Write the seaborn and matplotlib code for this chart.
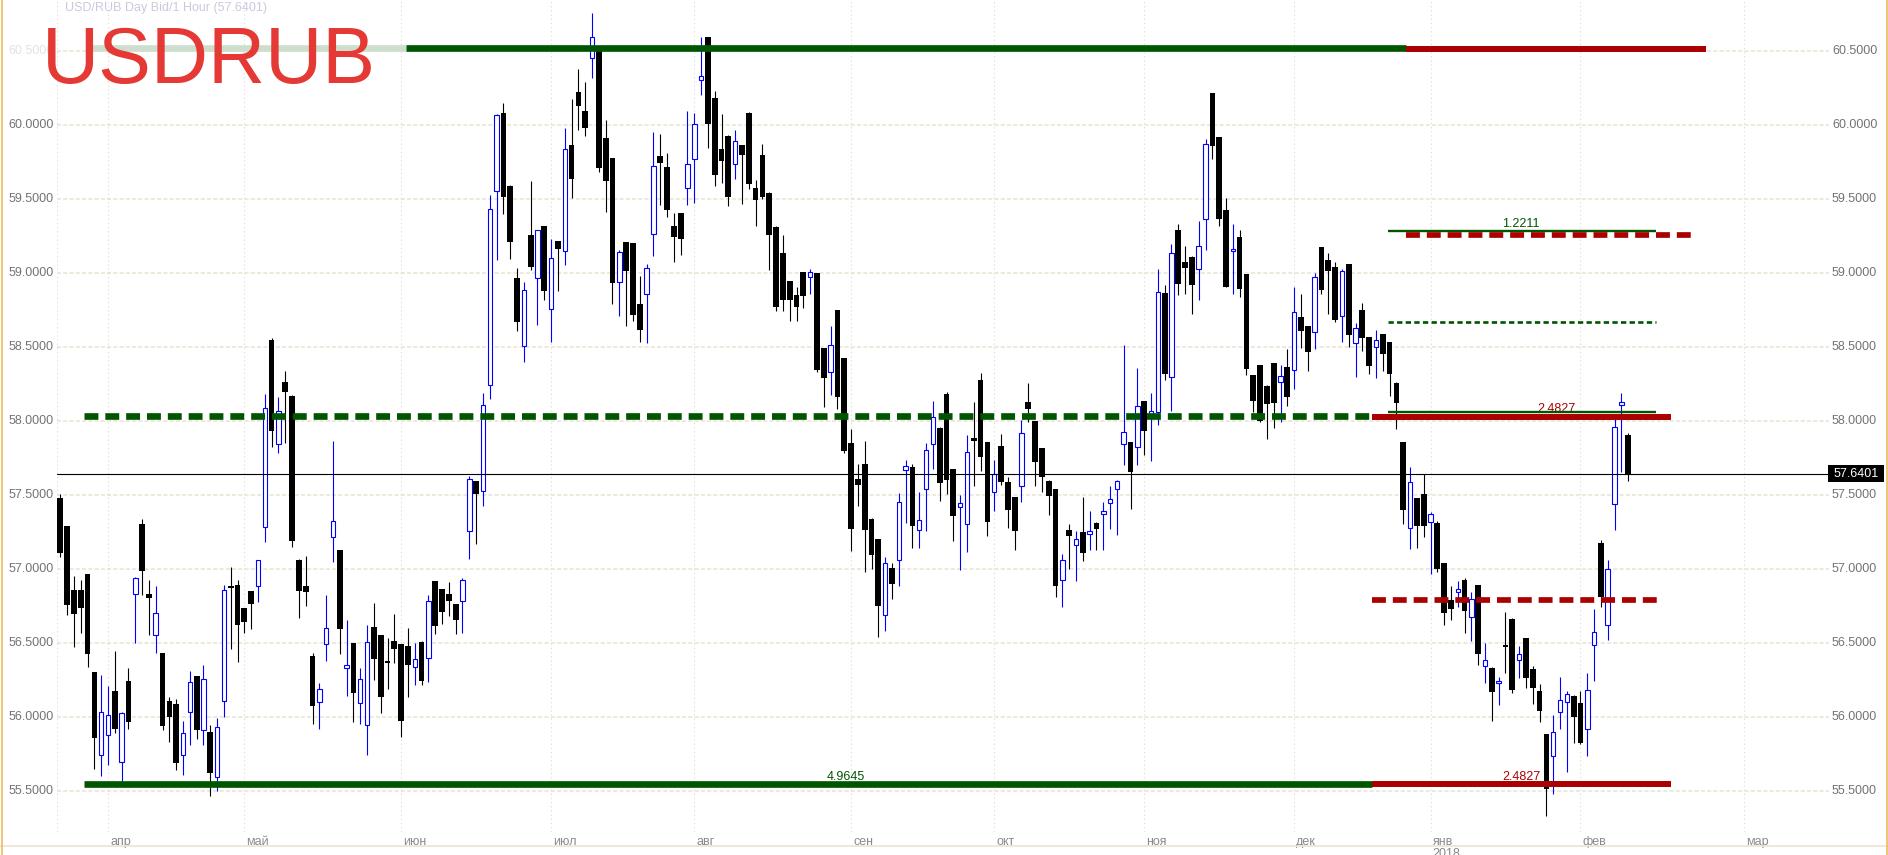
import numpy as np
import pandas as pd
import matplotlib
matplotlib.use("Agg")
import matplotlib.pyplot as plt
import matplotlib.transforms as mtransforms
from matplotlib.lines import Line2D
from matplotlib.patches import Rectangle
import seaborn as sns

# дневные свечи USD/RUB (Bid), 23.03.2017 - 12.02.2018, без 25.12 и 01.01
dates = pd.bdate_range("2017-03-23", "2018-02-12")
dates = dates[~dates.isin(pd.to_datetime(["2017-12-25", "2018-01-01"]))]

opens = [
    57.479, 57.285, 56.852, 56.858, 56.960, 56.299, 55.739,
    55.874, 56.171, 55.692, 56.238, 56.831, 57.299, 56.827, 56.548, 56.427, 56.103,
    56.083, 55.739, 56.029, 56.272, 55.908, 55.894, 55.591, 56.103, 56.876, 56.892,
    56.733, 56.847, 56.885, 57.283, 58.544, 57.843, 58.263, 58.166, 57.061, 56.885,
    56.409, 56.097, 56.488, 57.216, 57.124, 56.326, 56.497, 56.090, 55.942, 56.602,
    56.548, 56.375, 56.508,
    56.488, 56.476, 56.333, 56.501, 56.393, 56.915, 56.861, 56.827, 56.760, 56.784,
    57.256, 57.593, 57.526, 58.239, 59.549, 60.079, 59.585, 58.965, 58.503, 59.254,
    58.963, 59.315,
    58.753, 59.213, 59.145, 59.862, 60.221, 60.092, 60.451, 60.507, 59.910, 59.775,
    58.936, 59.206, 59.200, 58.789, 58.855, 59.260, 59.790, 59.716, 59.315, 59.402,
    59.572,
    59.768, 60.302, 60.593, 60.181, 59.832, 59.925, 59.734, 59.863, 60.080, 59.569,
    59.796, 59.541, 59.311, 59.131, 58.942, 58.847, 59.002, 58.973, 58.994, 58.489,
    58.331, 58.746, 58.421,
    57.849, 57.606, 57.710, 57.338, 57.201, 56.688, 57.005, 57.057, 57.666, 57.684,
    57.261, 57.537, 57.844, 57.952, 58.183, 57.673, 57.418, 57.304, 57.872, 58.277,
    57.855,
    57.519, 57.828, 57.586, 57.485, 57.559, 58.123, 57.998, 57.814, 57.595, 57.535,
    56.922, 57.264, 57.157, 57.244, 57.237, 57.311, 57.371, 57.445, 57.539, 57.841,
    57.855, 57.821,
    58.130, 58.016, 58.061, 58.863, 58.293, 59.288, 59.072, 59.106, 59.023, 59.360,
    60.214, 59.917, 59.423, 59.146, 59.241, 58.991, 58.309, 58.376, 58.236, 58.390,
    58.259, 58.363,
    58.340, 58.698, 58.637, 58.597, 59.173, 59.083, 59.038, 58.706, 59.059, 58.525,
    58.750, 58.562, 58.497, 58.582, 58.528, 58.257, 57.852, 57.272, 57.476, 57.501,
    57.318, 57.308, 57.037, 56.787, 56.839, 56.924, 56.676, 56.890, 56.341, 56.330,
    56.228, 56.475, 56.661, 56.382, 56.532, 56.323, 56.176, 55.879, 55.734, 56.031,
    56.098, 56.141,
    56.094, 55.916, 56.481, 57.174, 56.616, 57.435, 58.105, 57.903,
]
highs = [
    57.506, 57.290, 56.953, 56.926, 56.960, 56.300, 56.281,
    56.207, 56.443, 56.030, 56.328, 56.940, 57.333, 56.926, 56.881, 56.430, 56.135,
    56.119, 55.969, 56.308, 56.275, 56.346, 55.942, 55.989, 56.892, 57.009, 56.926,
    56.735, 56.850, 57.061, 58.180, 58.557, 58.162, 58.337, 58.170, 57.063, 57.088,
    56.427, 56.225, 56.820, 57.865, 57.126, 56.652, 56.500, 56.328, 56.618, 56.766,
    56.550, 56.528, 56.692,
    56.490, 56.596, 56.494, 56.510, 56.820, 56.917, 56.863, 56.908, 56.762, 56.935,
    57.625, 57.595, 58.187, 59.526, 60.070, 60.147, 59.590, 59.033, 58.938, 59.621,
    59.290, 59.317,
    59.229, 59.215, 59.980, 60.176, 60.379, 60.291, 60.751, 60.510, 60.034, 59.777,
    59.150, 59.208, 59.202, 58.979, 59.057, 59.953, 59.939, 59.811, 59.402, 59.404,
    60.095,
    60.079, 60.589, 60.595, 60.230, 60.075, 59.927, 59.966, 59.865, 60.082, 59.629,
    59.866, 59.543, 59.313, 59.257, 58.944, 58.901, 59.004, 59.022, 58.996, 58.491,
    58.638, 58.748, 58.423,
    57.942, 57.710, 57.862, 57.340, 57.203, 57.078, 57.039, 57.511, 57.735, 57.710,
    57.516, 57.849, 58.135, 57.960, 58.190, 57.675, 57.499, 57.902, 58.123, 58.324,
    57.857,
    57.736, 57.908, 57.622, 57.487, 58.004, 58.251, 58.000, 57.816, 57.597, 57.537,
    57.096, 57.300, 57.251, 57.481, 57.387, 57.313, 57.452, 57.555, 57.600, 58.509,
    57.857, 58.356,
    58.133, 58.186, 59.023, 58.917, 59.194, 59.329, 59.180, 59.113, 59.349, 59.901,
    60.216, 59.919, 59.505, 59.329, 59.288, 58.993, 58.311, 58.378, 58.238, 58.392,
    58.376, 58.484,
    58.903, 58.856, 58.639, 58.998, 59.175, 59.133, 59.072, 59.021, 59.061, 58.662,
    58.796, 58.564, 58.613, 58.584, 58.530, 58.259, 57.854, 57.685, 57.478, 57.636,
    57.380, 57.320, 57.039, 56.882, 56.916, 56.937, 56.839, 56.892, 56.498, 56.332,
    56.268, 56.707, 56.663, 56.477, 56.534, 56.343, 56.222, 55.881, 56.013, 56.269,
    56.173, 56.143,
    56.173, 56.296, 56.728, 57.192, 57.059, 58.011, 58.186, 57.916,
]
lows = [
    57.079, 56.683, 56.472, 56.566, 56.337, 55.649, 55.596,
    55.676, 55.888, 55.562, 55.919, 56.499, 56.820, 56.553, 56.427, 55.906, 55.825,
    55.636, 55.603, 55.805, 55.847, 55.805, 55.461, 55.494, 56.000, 56.458, 56.366,
    56.562, 56.593, 56.775, 57.182, 57.820, 57.780, 57.847, 57.146, 56.667, 56.748,
    55.953, 55.919, 56.378, 57.045, 56.425, 56.139, 55.966, 55.953, 55.737, 56.245,
    56.027, 56.189, 56.364,
    55.865, 56.130, 56.216, 56.216, 56.236, 56.560, 56.627, 56.681, 56.560, 56.567,
    57.065, 57.166, 57.422, 58.149, 59.082, 59.393, 59.089, 58.602, 58.399, 59.019,
    58.647, 58.816,
    58.532, 58.879, 59.053, 59.506, 59.966, 59.921, 60.313, 59.682, 59.407, 58.791,
    58.710, 58.642, 58.676, 58.534, 58.521, 59.109, 59.454, 59.373, 59.069, 59.116,
    59.454,
    59.468, 60.198, 59.840, 59.587, 59.605, 59.448, 59.631, 59.463, 59.562, 59.314,
    59.494, 59.015, 58.741, 58.741, 58.674, 58.674, 58.759, 58.857, 58.326, 58.089,
    58.176, 58.081, 57.779,
    57.121, 57.421, 56.974, 57.000, 56.536, 56.580, 56.794, 56.884, 57.310, 57.137,
    57.139, 57.253, 57.671, 57.460, 57.501, 57.188, 56.993, 57.114, 57.557, 57.658,
    57.221,
    57.389, 57.568, 57.275, 57.128, 57.452, 57.993, 57.557, 57.517, 57.362, 56.805,
    56.738, 56.998, 56.919, 57.051, 57.128, 57.128, 57.128, 57.266, 57.228, 57.698,
    57.405, 57.698,
    57.770, 57.725, 57.971, 58.277, 58.068, 58.849, 58.858, 58.723, 58.818, 59.155,
    59.770, 59.318, 58.903, 58.858, 58.838, 58.311, 58.061, 57.993, 57.874, 57.953,
    57.993, 58.099,
    58.216, 58.493, 58.338, 58.482, 58.858, 58.721, 58.669, 58.528, 58.497, 58.293,
    58.469, 58.314, 58.288, 58.335, 58.167, 57.942, 57.303, 57.135, 57.140, 57.213,
    56.965, 56.980, 56.617, 56.655, 56.743, 56.563, 56.511, 56.346, 56.230, 55.969,
    56.075, 56.292, 56.158, 56.258, 56.194, 56.083, 55.962, 55.325, 55.475, 55.914,
    55.624, 55.819,
    55.815, 55.732, 56.238, 56.737, 56.515, 57.264, 57.655, 57.594,
]
closes = [
    57.106, 56.757, 56.694, 56.735, 56.420, 55.858, 56.029,
    56.009, 55.919, 56.022, 55.966, 56.939, 56.984, 56.798, 56.703, 55.933, 56.000,
    55.685, 55.888, 56.231, 55.906, 56.252, 55.622, 55.928, 56.858, 56.870, 56.622,
    56.640, 56.764, 57.061, 58.085, 57.928, 58.065, 58.191, 57.189, 56.850, 56.843,
    56.074, 56.184, 56.596, 57.324, 56.593, 56.346, 56.162, 56.252, 56.501, 56.391,
    56.135, 56.360, 56.458,
    55.973, 56.346, 56.387, 56.243, 56.784, 56.613, 56.708, 56.782, 56.654, 56.926,
    57.607, 57.503, 58.106, 59.430, 60.065, 59.508, 59.204, 58.663, 58.882, 59.035,
    59.287, 58.873,
    59.098, 59.159, 59.835, 59.630, 60.124, 59.975, 60.593, 59.705, 59.617, 58.927,
    59.139, 59.008, 58.713, 58.611, 59.030, 59.720, 59.738, 59.421, 59.238, 59.224,
    59.734,
    60.005, 60.329, 60.002, 59.657, 59.752, 59.510, 59.889, 59.794, 59.598, 59.489,
    59.510, 59.255, 58.770, 58.816, 58.816, 58.770, 58.842, 59.007, 58.344, 58.290,
    58.514, 58.161, 57.797,
    57.266, 57.563, 57.258, 57.091, 56.748, 57.039, 56.894, 57.449, 57.692, 57.289,
    57.328, 57.800, 58.027, 57.577, 57.597, 57.356, 57.445, 57.787, 57.865, 57.752,
    57.315,
    57.638, 57.584, 57.396, 57.255, 57.915, 58.081, 57.718, 57.617, 57.490, 56.879,
    57.056, 57.221, 57.197, 57.107, 57.255, 57.268, 57.391, 57.472, 57.593, 57.922,
    57.651, 58.096,
    57.933, 58.063, 58.867, 58.318, 59.131, 58.926, 59.034, 58.919, 59.178, 59.867,
    59.858, 59.365, 58.905, 59.153, 58.892, 58.351, 58.135, 58.000, 58.115, 58.122,
    58.300, 58.162,
    58.732, 58.608, 58.466, 58.968, 58.885, 59.014, 58.678, 59.013, 58.577, 58.626,
    58.556, 58.368, 58.546, 58.448, 58.314, 58.118, 57.398, 57.584, 57.290, 57.290,
    57.367, 56.998, 56.697, 56.730, 56.862, 56.710, 56.795, 56.426, 56.382, 56.163,
    56.235, 56.468, 56.178, 56.423, 56.258, 56.191, 56.036, 55.510, 55.896, 56.112,
    56.152, 55.995,
    55.819, 56.179, 56.571, 56.805, 56.996, 57.954, 58.123, 57.6401,
]
last_price = 57.6401

price_ticks = [55.5, 56.0, 56.5, 57.0, 57.5, 58.0, 58.5, 59.0, 59.5, 60.0, 60.5]
month_names = ["апр", "май", "июн", "июл", "авг", "сен", "окт", "ноя", "дек", "янв", "фев", "мар"]
future_slots_to_march = 24   # прогнозная зона справа

# уровни (цена, начало, конец в слотах свечей, цвет, толщина, стиль)
GREEN = "#005500"
RED = "#aa0000"
LIGHT_GREEN = "#cddfcc"
levels = [
    (60.515, 3.9, 50.7, LIGHT_GREEN, 4.8, "-"),
    (60.515, 50.7, 197.4, GREEN, 4.8, "-"),
    (60.51, 197.4, 241.4, RED, 4.3, "-"),
    (58.03, 3.5, 192.4, GREEN, 4.8, (0, (10, 5))),
    (58.022, 192.4, 236.3, RED, 4.3, "-"),
    (58.055, 194.8, 234.1, GREEN, 1.7, "-"),
    (55.545, 3.5, 192.4, GREEN, 4.8, "-"),
    (55.545, 192.4, 236.3, RED, 4.3, "-"),
    (59.28, 194.8, 234.1, GREEN, 1.7, "-"),
    (59.257, 197.4, 239.7, RED, 4.1, (0, (10, 5))),
    (58.669, 194.8, 234.1, GREEN, 1.9, (0, (3.8, 2.4))),
    (56.785, 192.4, 234.5, RED, 4.1, (0, (10, 5))),
]
level_labels = [
    ("1.2211", 214.3, 59.29, GREEN),
    ("2.4827", 219.4, 58.035, RED),
    ("4.9645", 115.3, 55.55, GREEN),
    ("2.4827", 214.3, 55.55, RED),
]

sns.set_theme(style="white")
plt.rcParams["font.family"] = ["Liberation Sans", "DejaVu Sans"]
plt.rcParams["lines.scale_dashes"] = False

W, H = 1888, 855
fig = plt.figure(figsize=(W / 100, H / 100), dpi=100)
fig.patch.set_facecolor("white")
ax = fig.add_axes([57.3 / W, 1 - 832 / H, (1829.3 - 57.3) / W, 832 / H])
ax.set_xlim(-0.44, 259.5)
ax.set_ylim(55.22, 60.842)
ax.set_axis_off()

o = np.array(opens)
h = np.array(highs)
l = np.array(lows)
c = np.array(closes)
x = np.arange(len(dates))
up = c >= o

# сетка
for v in price_ticks:
    ax.axhline(v, color="#e8e4d2", lw=1.1, ls=(0, (3, 1.5)), zorder=0)
month_pos = [i for i in range(1, len(dates)) if dates[i].month != dates[i - 1].month]
month_pos = [7] + month_pos if 7 not in month_pos else month_pos
month_pos.append(month_pos[-1] + future_slots_to_march)
for p in month_pos + [-0.44, 259.5]:
    ax.axvline(p, color="#e0e0d8", lw=0.8, ls=(0, (1, 2)), zorder=0)

# свечи
ax.vlines(x[up], l[up], h[up], color="#0000ff", lw=0.8, zorder=2)
ax.vlines(x[~up], l[~up], h[~up], color="black", lw=0.8, zorder=2)
ax.bar(x[up], np.maximum(c - o, 0.012)[up], bottom=o[up], width=0.66,
       facecolor="white", edgecolor="#0000ff", linewidth=0.8, zorder=3)
ax.bar(x[~up], np.maximum(o - c, 0.015)[~up], bottom=c[~up], width=0.84,
       color="black", linewidth=0, zorder=3)

# подписи уровней (частично перекрыты линиями)
for s, xp, yp, col in level_labels:
    ax.text(xp, yp, s, color=col, fontsize=9, ha="center", va="bottom", zorder=3.5)

# уровни
for y, x0, x1, col, lw, ls in levels:
    ax.plot([x0, x1], [y, y], color=col, lw=lw, ls=ls, zorder=4,
            solid_capstyle="butt", dash_capstyle="butt")

# текущая цена
ax.axhline(last_price, color="black", lw=0.8, zorder=5)

trans = mtransforms.blended_transform_factory(fig.transFigure, ax.transData)
for v in price_ticks:
    ax.text(1832 / W, v, f"{v:.4f}", transform=trans, color="#737373", fontsize=9,
            ha="left", va="center", clip_on=False)
    ax.text(53.5 / W, v, f"{v:.4f}", transform=trans,
            color="#e2e2e2" if v == 60.5 else "#737373", fontsize=9,
            ha="right", va="center", clip_on=False)
ax.add_patch(Rectangle((1828.3 / W, last_price - 0.0575), 55.7 / W, 0.115,
                       transform=trans, facecolor="black", edgecolor="none",
                       clip_on=False, zorder=6))
ax.text(1856 / W, last_price, f"{last_price:.4f}", transform=trans, color="white",
        fontsize=9, ha="center", va="center", clip_on=False, zorder=7)

# месяцы
transx = mtransforms.blended_transform_factory(ax.transData, fig.transFigure)
for p, name in zip(month_pos, month_names):
    ax.text(p + 0.3, 1 - 845 / H, name, transform=transx, color="#8a8a8a",
            fontsize=9, ha="left", va="baseline", clip_on=False)
ax.text(month_pos[9] + 0.3, 1 - 848 / H, "2018", transform=transx, color="#8a8a8a",
        fontsize=9, ha="left", va="top", clip_on=False)

# рамка
fig.add_artist(Line2D([0, 1], [1 - 846 / H] * 2, transform=fig.transFigure,
                      color="#ebe5d0", lw=1.2, zorder=1))
for xf in (1.5 / W, 1886.5 / W):
    fig.add_artist(Line2D([xf, xf], [0, 1], transform=fig.transFigure,
                          color="#efb44f", lw=1.1))

# заголовки
fig.text(65 / W, 1 - 2 / H, "USD/RUB Day Bid/1 Hour (57.6401)", color="#c9cadf",
         fontsize=9, ha="left", va="top")
fig.text(42 / W, 1 - 83 / H, "USDRUB", color="#e53935", fontsize=57,
         ha="left", va="baseline")

fig.savefig("out.png", dpi=100)
